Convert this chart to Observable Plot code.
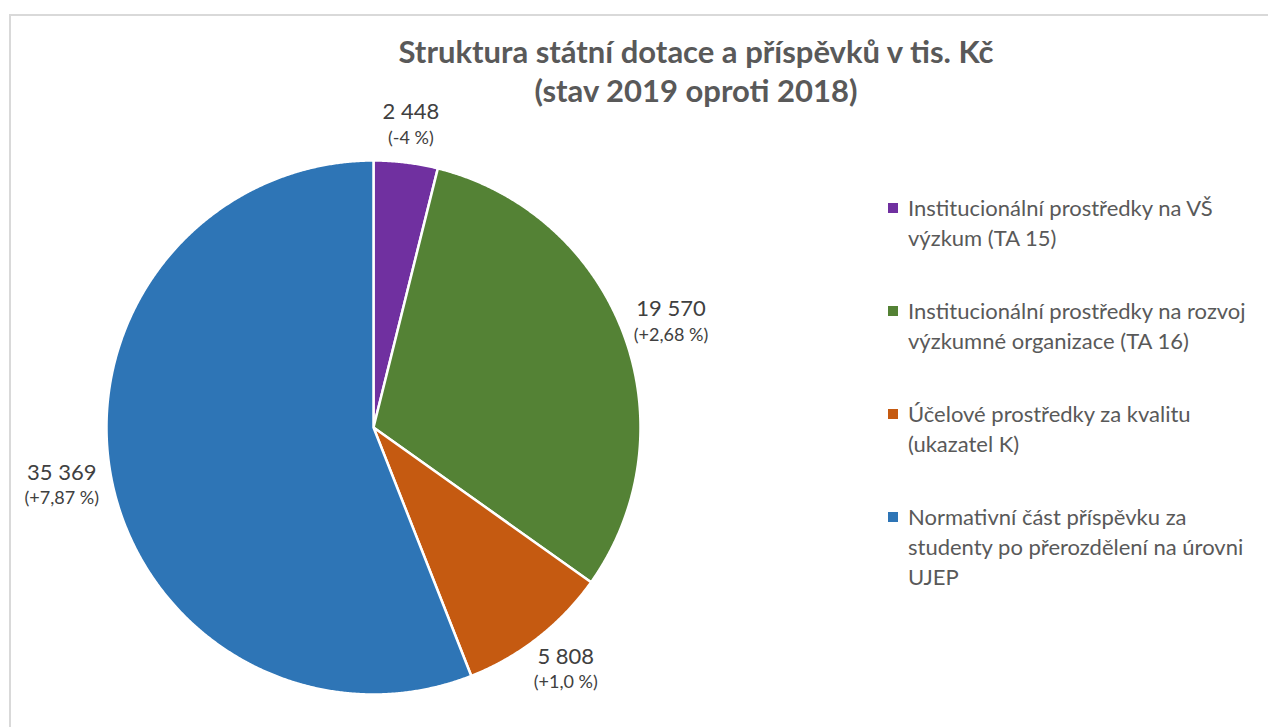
<!DOCTYPE html>
<html>
<head>
<meta charset="utf-8">
<script src="https://cdn.jsdelivr.net/npm/d3@7"></script>
<script src="https://cdn.jsdelivr.net/npm/@observablehq/plot@0.6"></script>
<style>
  html, body { margin: 0; padding: 0; background: #fff; }
  #wrap { position: relative; width: 1268px; height: 727px; overflow: hidden; font-family: Lato, "Open Sans", sans-serif; }
  #frame { position: absolute; left: 9px; top: 14px; width: 1400px; height: 900px; border-left: 2px solid #d9d9d9; border-top: 2px solid #d9d9d9; }
  #title { position: absolute; left: 346px; width: 700px; top: 32px; text-align: center; font-weight: bold; font-size: 31px; line-height: 39px; color: #595959; }
  #chart { position: absolute; left: 0; top: 0; }
  #legend { position: absolute; left: 888px; top: 193px; width: 380px; color: #595959; font-size: 22px; line-height: 30px; }
  .item { position: relative; padding-left: 20px; margin-bottom: 43px; white-space: nowrap; }
  .sw { position: absolute; left: 0; top: 10px; width: 10px; height: 10px; }
</style>
</head>
<body>
<div id="wrap">
  <div id="frame"></div>
  <div id="chart"></div>
  <div id="title">Struktura státní dotace a příspěvků v tis. Kč<br>(stav 2019 oproti 2018)</div>
  <div id="legend"></div>
</div>
<script>
const categories = [
  "Institucionální prostředky na VŠ výzkum (TA 15)",
  "Institucionální prostředky na rozvoj výzkumné organizace (TA 16)",
  "Účelové prostředky za kvalitu (ukazatel K)",
  "Normativní část příspěvku za studenty po přerozdělení na úrovni UJEP"
];
const legendLines = [
  ["Institucionální prostředky na VŠ", "výzkum (TA 15)"],
  ["Institucionální prostředky na rozvoj", "výzkumné organizace (TA 16)"],
  ["Účelové prostředky za kvalitu", "(ukazatel K)"],
  ["Normativní část příspěvku za", "studenty po přerozdělení na úrovni", "UJEP"]
];
const values = [2448, 19570, 5808, 35369];
const valueLabels = ["2 448", "19 570", "5 808", "35 369"];
const changeLabels = ["(-4 %)", "(+2,68 %)", "(+1,0 %)", "(+7,87 %)"];
const colors = ["#7030A0", "#548235", "#C55A11", "#2E75B6"];

const W = 1268, H = 727;
const mL = 106, mR = 628, mT = 160, mB = 33;
const R = (W - mL - mR) / 2; // px per data unit

const data = categories.map((c, i) => ({category: c, value: values[i], valueLabel: valueLabels[i], changeLabel: changeLabels[i]}));
const arcs = d3.pie().sort(null).value(d => d.value)(data);

// slice polygons in data units (unit circle)
const pts = [];
for (const a of arcs) {
  const c = a.data.category;
  pts.push({category: c, x: 0, y: 0});
  const n = Math.max(2, Math.ceil((a.endAngle - a.startAngle) / 0.005));
  for (let k = 0; k <= n; k++) {
    const t = a.startAngle + (a.endAngle - a.startAngle) * k / n;
    pts.push({category: c, x: Math.sin(t), y: Math.cos(t)});
  }
  pts.push({category: c, x: 0, y: 0});
}

// label positions: outside end, box pushed away from the pie along mid angle
const ctx = document.createElement("canvas").getContext("2d");
const gap = 13;
const labels = arcs.map(a => {
  const m = (a.startAngle + a.endAngle) / 2;
  ctx.font = "22px Lato"; const w1 = ctx.measureText(a.data.valueLabel).width;
  ctx.font = "18px Lato"; const w2 = ctx.measureText(a.data.changeLabel).width;
  const w = Math.max(w1, w2), h = 52;
  const px = (R + gap) * Math.sin(m) + Math.sin(m) * w / 2;
  const py = (R + gap) * Math.cos(m) + Math.cos(m) * h / 2;
  return {...a.data, x: px / R, y: py / R};
});

const chart = Plot.plot({
  width: W, height: H,
  marginLeft: mL, marginRight: mR, marginTop: mT, marginBottom: mB,
  x: {domain: [-1, 1], axis: null},
  y: {domain: [-1, 1], axis: null},
  color: {domain: categories, range: colors},
  style: {background: "transparent", overflow: "visible"},
  marks: [
    Plot.line(pts, {x: "x", y: "y", z: "category", fill: "category", stroke: "white", strokeWidth: 2.5, strokeLinejoin: "round", curve: "linear"}),
    Plot.text(labels, {x: "x", y: "y", text: "valueLabel", dy: -12, fontSize: 22, fill: "#404040", fontFamily: "Lato, 'Open Sans', sans-serif"}),
    Plot.text(labels, {x: "x", y: "y", text: "changeLabel", dy: 14, fontSize: 18, fill: "#404040", fontFamily: "Lato, 'Open Sans', sans-serif"})
  ]
});
document.getElementById("chart").appendChild(chart);

const legend = document.getElementById("legend");
categories.forEach((c, i) => {
  const item = document.createElement("div");
  item.className = "item";
  const sw = document.createElement("div");
  sw.className = "sw";
  sw.style.background = colors[i];
  item.appendChild(sw);
  legendLines[i].forEach(l => {
    const line = document.createElement("div");
    line.textContent = l;
    item.appendChild(line);
  });
  legend.appendChild(item);
});
</script>
</body>
</html>
